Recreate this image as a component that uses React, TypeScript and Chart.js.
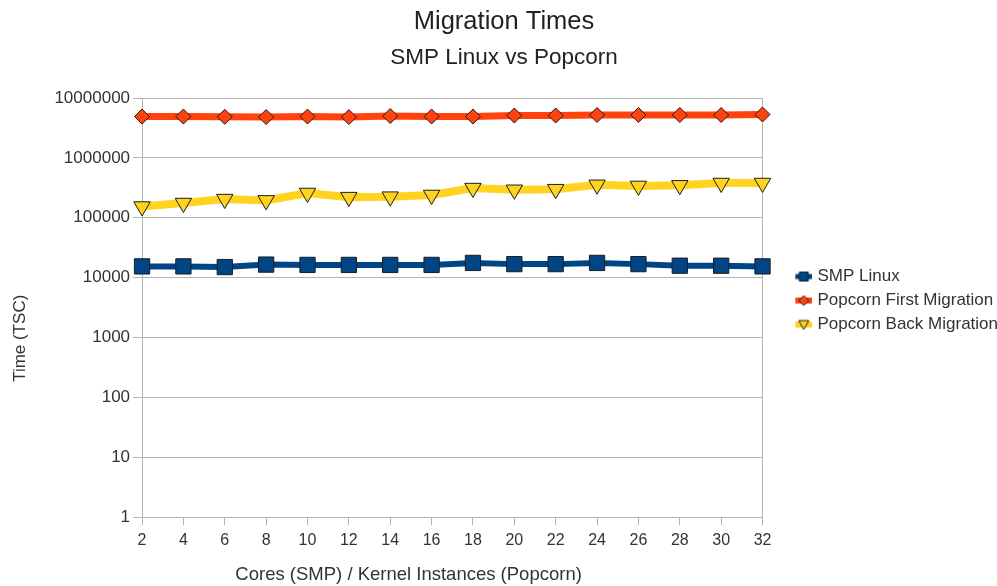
import React, { useEffect, useRef } from 'react';
import { Chart, registerables } from 'chart.js';

Chart.register(...registerables);

// ---- data ----
const cores = ['2', '4', '6', '8', '10', '12', '14', '16', '18', '20', '22', '24', '26', '28', '30', '32'];
const smpLinux = [15400, 15400, 15000, 16500, 16300, 16300, 16300, 16300, 17600, 16800, 16800, 17600, 16800, 15800, 15800, 15400];
const firstMigration = [4900000, 4900000, 4850000, 4800000, 4900000, 4800000, 5000000, 4900000, 4900000, 5100000, 5100000, 5200000, 5200000, 5200000, 5200000, 5300000];
const backMigration = [154000, 176000, 205000, 195000, 259000, 221000, 225000, 240000, 313000, 293000, 300000, 355000, 340000, 348000, 380000, 380000];
const yTicks = [1, 10, 100, 1000, 10000, 100000, 1000000, 10000000];
const seriesNames = ['SMP Linux', 'Popcorn First Migration', 'Popcorn Back Migration'];
const xTitle = 'Cores (SMP) / Kernel Instances (Popcorn)';
const yTitle = 'Time (TSC)';

const FONT = "'Liberation Sans', Arial, sans-serif";
const GRID = '#b3b3b3';
const TEXT = '#333333';
const BLUE = '#004586';
const RED = '#ff420e';
const YELLOW = '#ffd320';
const EDGE = '#1e1e1e';

function makeIcon(color: string, lineWidth: number, shape: string): HTMLCanvasElement {
  const c = document.createElement('canvas');
  c.width = 46;
  c.height = 16;
  const ctx = c.getContext('2d') as CanvasRenderingContext2D;
  const x0 = 29;
  const cx = 37.5;
  const cy = 8;
  ctx.fillStyle = color;
  ctx.fillRect(x0, cy - lineWidth / 2, 17, lineWidth);
  ctx.beginPath();
  if (shape === 'square') {
    ctx.rect(cx - 4.5, cy - 4.5, 9, 9);
  } else if (shape === 'diamond') {
    ctx.moveTo(cx, cy - 5);
    ctx.lineTo(cx + 5, cy);
    ctx.lineTo(cx, cy + 5);
    ctx.lineTo(cx - 5, cy);
    ctx.closePath();
  } else {
    ctx.moveTo(cx - 5, cy - 4);
    ctx.lineTo(cx + 5, cy - 4);
    ctx.lineTo(cx, cy + 5);
    ctx.closePath();
  }
  ctx.fillStyle = color;
  ctx.fill();
  ctx.strokeStyle = EDGE;
  ctx.lineWidth = 1;
  ctx.stroke();
  return c;
}

export default function App() {
  const ref = useRef<HTMLCanvasElement | null>(null);

  useEffect(() => {
    document.body.style.margin = '0';
    document.body.style.background = '#ffffff';
    const canvas = ref.current;
    if (!canvas) return;

    const icons = [makeIcon(BLUE, 5, 'square'), makeIcon(RED, 6, 'diamond'), makeIcon(YELLOW, 6, 'triangle')];

    const chart = new Chart(canvas, {
      type: 'line',
      data: {
        labels: cores,
        datasets: [
          {
            label: seriesNames[0],
            data: smpLinux,
            borderColor: BLUE,
            backgroundColor: BLUE,
            borderWidth: 6,
            pointStyle: 'rect',
            pointRadius: 10.8,
            pointBackgroundColor: BLUE,
            pointBorderColor: EDGE,
            pointBorderWidth: 1,
            tension: 0,
          },
          {
            label: seriesNames[1],
            data: firstMigration,
            borderColor: RED,
            backgroundColor: RED,
            borderWidth: 7,
            pointStyle: 'rectRot',
            pointRadius: 7.5,
            pointBackgroundColor: RED,
            pointBorderColor: EDGE,
            pointBorderWidth: 1,
            tension: 0,
          },
          {
            label: seriesNames[2],
            data: backMigration,
            borderColor: YELLOW,
            backgroundColor: YELLOW,
            borderWidth: 8,
            pointStyle: 'triangle',
            pointRotation: 180,
            pointRadius: 9.5,
            pointBackgroundColor: YELLOW,
            pointBorderColor: EDGE,
            pointBorderWidth: 1,
            tension: 0,
          },
        ],
      },
      options: {
        responsive: false,
        animation: false,
        events: [],
        layout: { padding: { left: 0, right: -11, top: 0, bottom: 0 } },
        plugins: {
          title: {
            display: true,
            text: 'Migration Times',
            color: '#222222',
            font: { family: FONT, size: 25.5, weight: 'normal' },
            padding: { top: 7, bottom: 4 },
          },
          subtitle: {
            display: true,
            text: 'SMP Linux vs Popcorn',
            color: '#222222',
            font: { family: FONT, size: 22.5, weight: 'normal' },
            padding: { top: 3, bottom: 26.4 },
          },
          legend: {
            display: true,
            position: 'right',
            fullSize: false,
            title: {
              display: true,
              text: ' ',
              font: { family: FONT, size: 1 },
              padding: { top: -15.2, bottom: 0 },
            },
            labels: {
              usePointStyle: true,
              pointStyleWidth: 39.5,
              padding: 7,
              color: TEXT,
              font: { family: FONT, size: 17 },
              generateLabels: (ch: any) =>
                ch.data.datasets.map((ds: any, i: number) => ({
                  text: ds.label,
                  pointStyle: icons[i],
                  fillStyle: ds.borderColor,
                  strokeStyle: ds.borderColor,
                  lineWidth: 0,
                  hidden: false,
                  datasetIndex: i,
                  fontColor: TEXT,
                })),
            },
          },
          tooltip: { enabled: false },
        },
        scales: {
          x: {
            type: 'category',
            offset: false,
            grid: {
              color: (ctx: any) => (ctx.index === 0 || ctx.index === cores.length - 1 ? GRID : 'rgba(0,0,0,0)'),
              tickColor: GRID,
              tickLength: 8,
              lineWidth: 1,
            },
            border: { color: GRID, width: 1 },
            ticks: {
              color: TEXT,
              font: { family: FONT, size: 16 },
              padding: 6,
              maxRotation: 0,
              autoSkip: false,
            },
            title: {
              display: true,
              text: xTitle + ' '.repeat(17),
              color: TEXT,
              font: { family: FONT, size: 18.5 },
              padding: { top: 7.5, bottom: 0 },
            },
          },
          y: {
            type: 'logarithmic',
            min: 1,
            max: 10000000,
            afterBuildTicks: (axis: any) => {
              axis.ticks = yTicks.map((v) => ({ value: v }));
            },
            grid: {
              color: GRID,
              tickColor: GRID,
              tickLength: 9,
              lineWidth: 1,
            },
            border: { color: GRID, width: 1 },
            ticks: {
              color: TEXT,
              font: { family: FONT, size: 17 },
              padding: 3,
              callback: (v: any) => String(v),
            },
            title: {
              display: true,
              text: yTitle + ' '.repeat(13),
              color: TEXT,
              font: { family: FONT, size: 17 },
              padding: { top: 10, bottom: 21 },
            },
          },
        },
      },
    } as any);

    return () => chart.destroy();
  }, []);

  return <canvas ref={ref} width={997} height={586} style={{ display: 'block' }} />;
}
